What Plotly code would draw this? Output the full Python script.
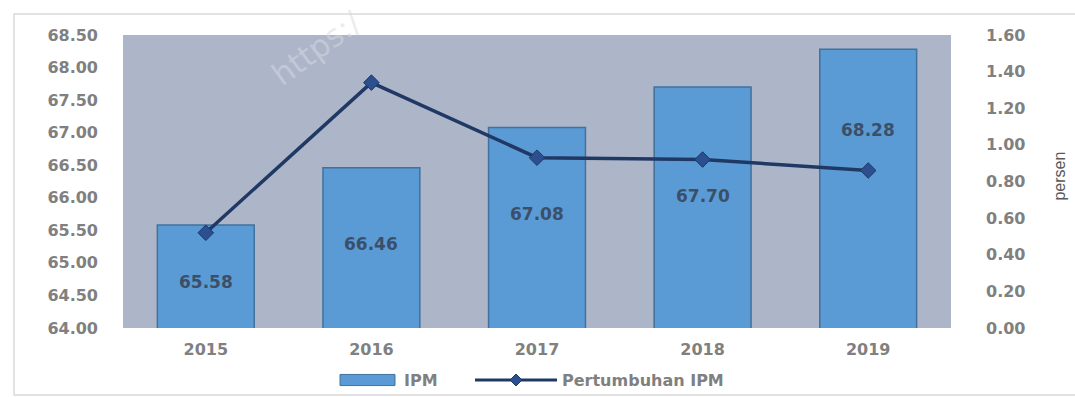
import plotly.graph_objects as go

# Data
years = ["2015", "2016", "2017", "2018", "2019"]
ipm = [65.58, 66.46, 67.08, 67.70, 68.28]
pertumbuhan_ipm = [0.52, 1.34, 0.93, 0.92, 0.86]

# Label offsets (pixels) to keep value labels clear of the growth line
label_yshift = [-5, 4, 14, 12, 59]

FONT = "DejaVu Sans"
TICK_GREY = "#808080"
BAR_FILL = "#5B9BD5"
BAR_EDGE = "#41719C"
LINE_COLOR = "#203864"
MARKER_COLOR = "#2B4F8F"
PLOT_BG = "#ADB6C9"

fig = go.Figure()

fig.add_trace(go.Bar(
    x=years, y=ipm, name="IPM",
    width=0.585,
    marker=dict(color=BAR_FILL, line=dict(color=BAR_EDGE, width=1.5)),
    showlegend=False,
))

fig.add_trace(go.Scatter(
    x=years, y=pertumbuhan_ipm, name="Pertumbuhan IPM",
    yaxis="y2", mode="lines+markers",
    line=dict(color=LINE_COLOR, width=3.5),
    marker=dict(symbol="diamond", size=12, color=MARKER_COLOR,
                line=dict(color=LINE_COLOR, width=1)),
    showlegend=False,
))

# Value labels inside the bars (x given as category index)
y_min = 64.0
for i, (v, dy) in enumerate(zip(ipm, label_yshift)):
    fig.add_annotation(
        x=i, y=(y_min + v) / 2, xref="x", yref="y",
        text=f"{v:.2f}", showarrow=False, yshift=dy,
        font=dict(family=FONT, size=17, color="#3B5068", weight="bold"),
    )

# Watermark
fig.add_annotation(
    xref="paper", yref="paper", x=0.234, y=0.955,
    xanchor="center", yanchor="middle",
    text="https:/", showarrow=False, textangle=-36,
    font=dict(family=FONT, size=31, color="rgba(215,218,225,0.5)"),
)

# Right-axis title
fig.add_annotation(
    xref="paper", yref="paper", x=1.1316, y=0.52,
    xanchor="center", yanchor="middle",
    text="persen", showarrow=False, textangle=-90,
    font=dict(family="Liberation Sans Narrow, Liberation Sans", size=16, color="#595959"),
)

# Outer chart frame
fig.add_shape(type="rect", xref="paper", yref="paper",
              x0=-0.1316, x1=1.25, y0=-0.2287, y1=1.0717,
              line=dict(color="#D9D9D9", width=1.5), fillcolor="rgba(0,0,0,0)",
              layer="below")

# Legend drawn by hand
leg_y = -0.1775
fig.add_shape(type="rect", xref="paper", yref="paper",
              x0=0.2621, x1=0.3285, y0=leg_y - 0.019, y1=leg_y + 0.019,
              fillcolor=BAR_FILL, line=dict(color=BAR_EDGE, width=1))
fig.add_annotation(xref="paper", yref="paper", x=0.337, y=leg_y,
                   xanchor="left", yanchor="middle",
                   text="IPM", showarrow=False,
                   font=dict(family=FONT, size=16, color=TICK_GREY, weight="bold"))
fig.add_shape(type="line", xref="paper", yref="paper",
              x0=0.4251, x1=0.5242, y0=leg_y, y1=leg_y,
              line=dict(color=LINE_COLOR, width=3))
cx = (0.4251 + 0.5242) / 2
dx, dy = 6 / 828, 6 / 293
fig.add_shape(type="path", xref="paper", yref="paper",
              path=f"M {cx - dx} {leg_y} L {cx} {leg_y + dy} L {cx + dx} {leg_y} L {cx} {leg_y - dy} Z",
              fillcolor=MARKER_COLOR, line=dict(color=LINE_COLOR, width=1))
fig.add_annotation(xref="paper", yref="paper", x=0.5278, y=leg_y,
                   xanchor="left", yanchor="middle",
                   text="Pertumbuhan IPM", showarrow=False,
                   font=dict(family=FONT, size=16, color=TICK_GREY, weight="bold"))

tick_font = dict(family=FONT, size=16, color=TICK_GREY, weight="bold")

fig.update_layout(
    width=1075, height=397,
    margin=dict(l=123, r=124, t=35, b=69),
    paper_bgcolor="white",
    plot_bgcolor=PLOT_BG,
    xaxis=dict(
        type="category", range=[-0.5, 4.5],
        showgrid=False, zeroline=False, showline=False,
        tickfont=tick_font, ticks="", ticklabelstandoff=10,
    ),
    yaxis=dict(
        range=[64, 68.5], dtick=0.5, tick0=64, tickformat=".2f",
        showgrid=False, zeroline=False, showline=False,
        tickfont=tick_font, ticklabelstandoff=24,
    ),
    yaxis2=dict(
        range=[0, 1.6], dtick=0.2, tick0=0, tickformat=".2f",
        overlaying="y", side="right",
        showgrid=False, zeroline=False, showline=False,
        tickfont=tick_font, ticklabelstandoff=34,
    ),
)

fig.write_html("out.html")
